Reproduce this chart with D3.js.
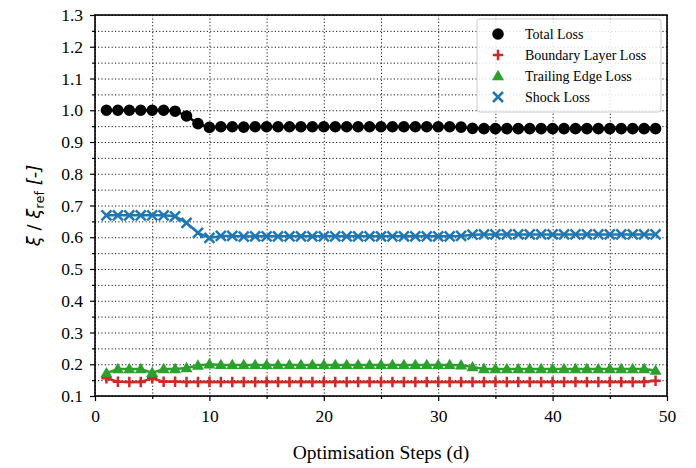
<!DOCTYPE html>
<meta charset="utf-8">
<style>
body { margin: 0; background: #fff; }
.grid line { stroke: #000; stroke-width: 0.9; stroke-dasharray: 1.2,2.2; }
.grid path { display: none; }
</style>
<svg width="696" height="468"></svg>
<script src="https://cdn.jsdelivr.net/npm/d3@7/dist/d3.min.js"></script>
<script>

// optimisation steps 1..49
var steps = d3.range(1, 50)

var totalLoss = [1.0, 1.0, 1.0, 1.0, 1.0, 1.0, 0.997, 0.982, 0.958, 0.946,
  0.948, 0.948, 0.947, 0.948, 0.948, 0.948, 0.948, 0.948, 0.948, 0.948,
  0.948, 0.948, 0.948, 0.948, 0.948, 0.948, 0.948, 0.948, 0.948, 0.948,
  0.948, 0.947, 0.943, 0.942, 0.942, 0.942, 0.942, 0.942, 0.942, 0.942,
  0.942, 0.942, 0.942, 0.942, 0.942, 0.942, 0.942, 0.942, 0.942]

var blLoss = [0.156, 0.145, 0.144, 0.144, 0.156, 0.145, 0.145, 0.144, 0.144, 0.144,
  0.144, 0.144, 0.144, 0.144, 0.144, 0.144, 0.144, 0.144, 0.144, 0.144,
  0.144, 0.144, 0.144, 0.144, 0.144, 0.144, 0.144, 0.144, 0.144, 0.144,
  0.144, 0.144, 0.144, 0.144, 0.144, 0.144, 0.144, 0.144, 0.144, 0.144,
  0.144, 0.144, 0.144, 0.144, 0.144, 0.144, 0.144, 0.144, 0.148]

var teLoss = [0.172, 0.185, 0.185, 0.185, 0.173, 0.185, 0.185, 0.188, 0.196, 0.200,
  0.198, 0.198, 0.198, 0.198, 0.198, 0.198, 0.198, 0.198, 0.198, 0.198,
  0.198, 0.198, 0.198, 0.198, 0.198, 0.198, 0.198, 0.198, 0.198, 0.198,
  0.198, 0.197, 0.191, 0.185, 0.185, 0.185, 0.185, 0.185, 0.185, 0.185,
  0.185, 0.185, 0.185, 0.185, 0.185, 0.185, 0.185, 0.185, 0.180]

var shockLoss = [0.669, 0.669, 0.669, 0.669, 0.669, 0.669, 0.666, 0.645, 0.614, 0.598,
  0.604, 0.604, 0.602, 0.603, 0.603, 0.603, 0.603, 0.603, 0.603, 0.603,
  0.603, 0.603, 0.603, 0.603, 0.603, 0.603, 0.603, 0.603, 0.603, 0.603,
  0.603, 0.604, 0.608, 0.609, 0.609, 0.609, 0.609, 0.609, 0.609, 0.609,
  0.609, 0.609, 0.609, 0.609, 0.609, 0.609, 0.609, 0.609, 0.609]

var seriesNames = ['Total Loss', 'Boundary Layer Loss', 'Trailing Edge Loss', 'Shock Loss']
var seriesColors = ['#000000', '#d62728', '#2ca02c', '#1f77b4']
var seriesMarkers = ['circle', 'plus', 'triangle', 'cross']

var xTicks = [0, 10, 20, 30, 40, 50]
var yTicks = [0.1, 0.2, 0.3, 0.4, 0.5, 0.6, 0.7, 0.8, 0.9, 1.0, 1.1, 1.2, 1.3]

var serif = 'Liberation Serif'

var margin = {top: 15, right: 29, bottom: 72, left: 95},
    width = 696 - margin.left - margin.right,
    height = 468 - margin.top - margin.bottom

var svg = d3.select('svg')
var g = svg.append('g').attr('transform', 'translate(' + margin.left + ',' + margin.top + ')')

var x = d3.scaleLinear().domain([0, 50]).range([0, width])
var y = d3.scaleLinear().domain([0.1, 1.3]).range([height, 0])

var xMinor = d3.range(0, 51, 5)
var yMinor = d3.range(0, 25).map(function (i) { return +(0.1 + i * 0.05).toFixed(2) })

// grid, major and minor
g.append('g').attr('class', 'grid')
  .call(d3.axisBottom(x).tickValues(xMinor).tickSize(height).tickFormat(''))
g.append('g').attr('class', 'grid')
  .attr('transform', 'translate(' + width + ',0)')
  .call(d3.axisLeft(y).tickValues(yMinor).tickSize(width).tickFormat(''))

// series
var allSeries = [totalLoss, blLoss, teLoss, shockLoss]

var line = d3.line()
  .x(function (d, i) { return x(steps[i]) })
  .y(function (d) { return y(d) })

function markerPath(type) {
  if (type === 'circle') return d3.symbol(d3.symbolCircle, 106)()
  if (type === 'triangle') return 'M0,-6.2L6,4.2L-6,4.2Z'
  if (type === 'plus') return 'M-5.2,0H5.2M0,-5.2V5.2'
  return 'M-5,-5L5,5M-5,5L5,-5'
}

allSeries.forEach(function (vals, si) {
  var col = seriesColors[si]
  var sg = g.append('g')
  sg.append('path')
    .datum(vals)
    .attr('d', line)
    .attr('fill', 'none')
    .attr('stroke', col)
    .attr('stroke-width', 2.5)
  var filled = seriesMarkers[si] === 'circle' || seriesMarkers[si] === 'triangle'
  sg.selectAll('path.m')
    .data(vals)
    .enter()
    .append('path')
    .attr('class', 'm')
    .attr('transform', function (d, i) { return 'translate(' + x(steps[i]) + ',' + y(d) + ')' })
    .attr('d', markerPath(seriesMarkers[si]))
    .attr('fill', filled ? col : 'none')
    .attr('stroke', filled ? 'none' : col)
    .attr('stroke-width', 2.5)
})

// axes
var gx = g.append('g').attr('transform', 'translate(0,' + height + ')')
  .call(d3.axisBottom(x).tickValues(xTicks).tickSize(5).tickPadding(9).tickFormat(d3.format('d')))
g.append('g').attr('transform', 'translate(0,' + height + ')')
  .call(d3.axisBottom(x).tickValues(xMinor.filter(function (v) { return v % 10 })).tickSize(3).tickFormat(''))
var gy = g.append('g')
  .call(d3.axisLeft(y).tickValues(yTicks).tickSize(5).tickPadding(7).tickFormat(d3.format('.1f')))
g.append('g')
  .call(d3.axisLeft(y).tickValues(yMinor.filter(function (v) { return Math.round(v * 100) % 10 })).tickSize(3).tickFormat(''))
g.selectAll('.domain').remove()
g.selectAll('.tick line').filter(function () { return !this.closest('.grid') })
  .attr('stroke', '#000').attr('stroke-width', 1.2)
gx.attr('font-family', serif).attr('font-size', 17.5)
gy.attr('font-family', serif).attr('font-size', 17.5)
g.selectAll('.tick text').attr('fill', '#000')

// frame
g.append('rect')
  .attr('width', width).attr('height', height)
  .attr('fill', 'none').attr('stroke', '#000').attr('stroke-width', 1.6)

// axis labels
svg.append('text')
  .attr('x', margin.left + width / 2).attr('y', 459)
  .attr('text-anchor', 'middle')
  .attr('font-family', serif).attr('font-size', 19.5)
  .text('Optimisation Steps (d)')

var yl = svg.append('text')
  .attr('transform', 'translate(40,' + (margin.top + height / 2) + ') rotate(-90)')
  .attr('text-anchor', 'middle')
  .attr('font-family', 'DejaVu Sans').attr('font-size', 18)
yl.append('tspan').attr('font-style', 'italic').text('ξ')
yl.append('tspan').text(' / ')
yl.append('tspan').attr('font-style', 'italic').text('ξ')
yl.append('tspan').attr('dy', 4).attr('font-size', 13).text('ref')
yl.append('tspan').attr('dy', -4).attr('font-style', 'italic').text(' [-]')

// legend
var lg = g.append('g').attr('transform', 'translate(' + (477 - margin.left) + ',' + (19 - margin.top) + ')')
lg.append('rect')
  .attr('width', 184).attr('height', 93).attr('rx', 3)
  .attr('fill', '#fff').attr('fill-opacity', 0.85)
  .attr('stroke', '#ccc').attr('stroke-width', 1)
seriesNames.forEach(function (name, i) {
  var row = lg.append('g').attr('transform', 'translate(0,' + (15 + i * 21) + ')')
  var filled = seriesMarkers[i] === 'circle' || seriesMarkers[i] === 'triangle'
  row.append('path')
    .attr('transform', 'translate(21,0)')
    .attr('d', markerPath(seriesMarkers[i]))
    .attr('fill', filled ? seriesColors[i] : 'none')
    .attr('stroke', filled ? 'none' : seriesColors[i])
    .attr('stroke-width', 2.5)
  row.append('text')
    .attr('x', 48).attr('y', 5)
    .attr('font-family', serif).attr('font-size', 14)
    .text(name)
})
</script>
